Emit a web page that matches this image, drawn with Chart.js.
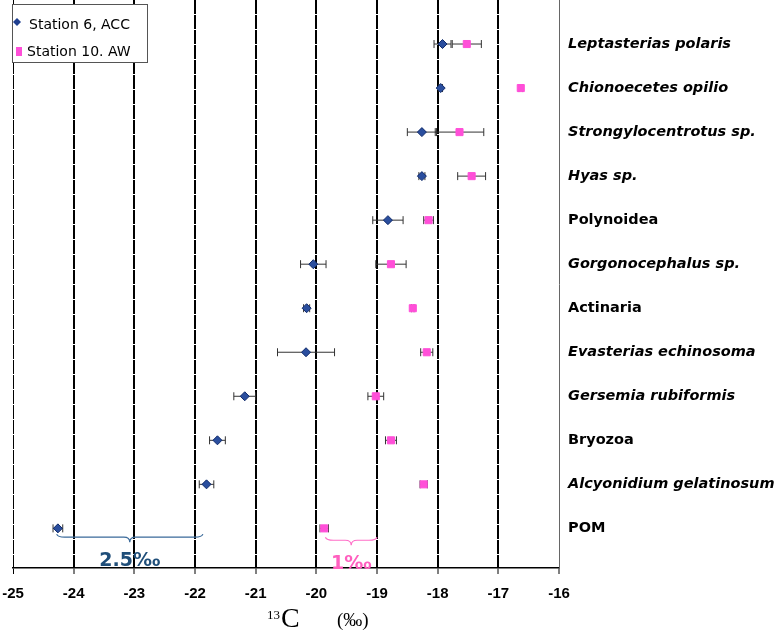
<!DOCTYPE html>
<html>
<head>
<meta charset="utf-8">
<script src="https://cdn.jsdelivr.net/npm/chart.js@4.4.1/dist/chart.umd.min.js"></script>
<style>
body { margin: 0; background: #fff; }
#wrap { width: 778px; height: 633px; }
</style>
</head>
<body>
<div id="wrap"><canvas id="isoChart" width="778" height="633"></canvas></div>
<script>
// taxa listed top to bottom
const taxa = ['Leptasterias polaris', 'Chionoecetes opilio', 'Strongylocentrotus sp.', 'Hyas sp.',
    'Polynoidea', 'Gorgonocephalus sp.', 'Actinaria', 'Evasterias echinosoma',
    'Gersemia rubiformis', 'Bryozoa', 'Alcyonidium gelatinosum', 'POM'];
const italicTaxa = [true, true, true, true, false, true, false, true, true, false, true, false];

// Station 6, ACC (mean and sd of d13C)
const accMean = [-17.92, -17.95, -18.26, -18.26, -18.82, -20.05, -20.16, -20.17, -21.18, -21.63, -21.81, -24.26];
const accSd = [0.14, 0.03, 0.24, 0.05, 0.25, 0.21, 0.05, 0.47, 0.18, 0.13, 0.12, 0.08];

// Station 10, AW
const awMean = [-17.52, -16.63, -17.64, -17.44, -18.15, -18.77, -18.41, -18.18, -19.02, -18.77, -18.23, -19.87];
const awSd = [0.24, 0.03, 0.40, 0.23, 0.08, 0.25, 0.02, 0.10, 0.13, 0.09, 0.06, 0.07];

const xTicks = [-25, -24, -23, -22, -21, -20, -19, -18, -17, -16];

// brace annotations
const braces = [
    { from: -24.28, to: -21.87, row: 12.2, text: '2.5‰', line: '#3A6A9A', color: '#1F4E79' },
    { from: -19.85, to: -19.0, row: 12.27, text: '1‰', line: '#FF6FC8', color: '#FF5FBF' }
];

function toPoints(means) {
    let pts = [];
    for (var i = 0; i < means.length; i++) {
        pts.push({ x: means[i], y: i + 1 });
    }
    return pts;
}

// Whiskers drawn under the markers
const errorBars = {
    id: 'errorBars',
    beforeDatasetsDraw(chart) {
        const ctx = chart.ctx;
        const xs = chart.scales.x;
        const ys = chart.scales.y;
        const sets = [[accMean, accSd], [awMean, awSd]];
        ctx.save();
        ctx.strokeStyle = '#333';
        ctx.lineWidth = 1;
        sets.forEach(s => {
            for (var i = 0; i < s[0].length; i++) {
                const y = ys.getPixelForValue(i + 1);
                const x1 = xs.getPixelForValue(s[0][i] - s[1][i]);
                const x2 = xs.getPixelForValue(s[0][i] + s[1][i]);
                ctx.beginPath();
                ctx.moveTo(x1, y); ctx.lineTo(x2, y);
                ctx.moveTo(x1, y - 4); ctx.lineTo(x1, y + 4);
                ctx.moveTo(x2, y - 4); ctx.lineTo(x2, y + 4);
                ctx.stroke();
            }
        });
        ctx.restore();
    }
};

const extras = {
    id: 'extras',
    afterDraw(chart) {
        const ctx = chart.ctx;
        const xs = chart.scales.x;
        const ys = chart.scales.y;
        ctx.save();

        // braces + labels
        braces.forEach(b => {
            const x1 = xs.getPixelForValue(b.from);
            const x2 = xs.getPixelForValue(b.to);
            const y = ys.getPixelForValue(b.row);
            const mid = (x1 + x2) / 2;
            ctx.strokeStyle = b.line;
            ctx.lineWidth = 1.2;
            ctx.beginPath();
            ctx.moveTo(x1, y - 3);
            ctx.quadraticCurveTo(x1 + 1, y, x1 + 8, y);
            ctx.lineTo(mid - 6, y);
            ctx.quadraticCurveTo(mid, y, mid, y + 5);
            ctx.quadraticCurveTo(mid, y, mid + 6, y);
            ctx.lineTo(x2 - 8, y);
            ctx.quadraticCurveTo(x2 - 1, y, x2, y - 3);
            ctx.stroke();
            ctx.fillStyle = b.color;
            ctx.font = 'bold 19px "DejaVu Sans"';
            ctx.textAlign = 'center';
            ctx.textBaseline = 'alphabetic';
            ctx.fillText(b.text, mid, y + 29);
        });

        // x axis title with superscript
        ctx.fillStyle = '#000';
        ctx.textAlign = 'left';
        ctx.textBaseline = 'alphabetic';
        ctx.font = '13px "Liberation Serif"';
        ctx.fillText('13', 267, 619);
        ctx.font = '28px "Liberation Serif"';
        ctx.fillText('C', 281, 627);
        ctx.font = '19px "Liberation Serif"';
        ctx.fillText('(‰)', 337, 626);

        // legend box
        ctx.fillStyle = '#fff';
        ctx.fillRect(12, 4, 135, 58);
        ctx.strokeStyle = '#555';
        ctx.lineWidth = 1;
        ctx.strokeRect(12.5, 4.5, 135, 58);
        ctx.fillStyle = '#1F3F8F';
        ctx.beginPath();
        ctx.moveTo(17, 18); ctx.lineTo(21, 22); ctx.lineTo(17, 26); ctx.lineTo(13, 22);
        ctx.closePath();
        ctx.fill();
        ctx.fillStyle = '#FF4FD8';
        ctx.fillRect(16, 47, 6, 9);
        ctx.fillStyle = '#000';
        ctx.font = '14px "DejaVu Sans"';
        ctx.textBaseline = 'middle';
        ctx.fillText('Station 6, ACC', 29, 25);
        ctx.fillText('Station 10. AW', 27, 52);
        ctx.restore();
    }
};

const chart = new Chart(document.getElementById('isoChart'), {
    type: 'scatter',
    data: {
        datasets: [{
            label: 'Station 6, ACC',
            data: toPoints(accMean),
            pointStyle: 'rectRot',
            pointRadius: 4.5,
            backgroundColor: '#2A4E9E',
            borderColor: '#0F2A6A',
            borderWidth: 1
        }, {
            label: 'Station 10. AW',
            data: toPoints(awMean),
            pointStyle: 'rect',
            pointRadius: 5,
            backgroundColor: '#FF4FD8',
            borderColor: '#FF4FD8',
            borderWidth: 1
        }]
    },
    options: {
        responsive: false,
        animation: false,
        devicePixelRatio: 1,
        layout: { autoPadding: false, padding: { left: 13, top: 0 } },
        plugins: { legend: { display: false }, tooltip: { enabled: false } },
        scales: {
            x: {
                type: 'linear',
                min: -25,
                max: -16,
                afterBuildTicks: s => { s.ticks = xTicks.map(v => ({ value: v })); },
                afterFit: s => { s.height = 65; s.paddingLeft = 0; s.paddingRight = 0; },
                ticks: {
                    color: '#000',
                    padding: 11,
                    font: { family: '"Liberation Sans"', size: 15, weight: 'bold' }
                },
                grid: {
                    color: ctx => (ctx.tick && ctx.tick.value === -16) ? 'rgba(0,0,0,0)' : '#000',
                    lineWidth: ctx => (ctx.tick && ctx.tick.value === -25) ? 1 : 2,
                    tickColor: '#000',
                    tickLength: 6,
                    tickWidth: 1
                },
                border: { display: true, color: '#000', width: 1.5, dash: [14, 1] }
            },
            y: {
                type: 'linear',
                position: 'right',
                reverse: true,
                min: 0,
                max: 12.9,
                afterBuildTicks: s => { s.ticks = taxa.map((t, i) => ({ value: i + 1 })); },
                afterFit: s => { s.width = 219; s.paddingTop = 0; s.paddingBottom = 0; },
                ticks: {
                    color: '#000',
                    padding: 1,
                    callback: v => taxa[v - 1],
                    font: ctx => ({
                        family: '"DejaVu Sans"',
                        size: 14.5,
                        weight: 'bold',
                        style: italicTaxa[ctx.index] ? 'italic' : 'normal'
                    })
                },
                grid: { display: false },
                border: { display: true, color: '#666', width: 1 }
            }
        }
    },
    plugins: [errorBars, extras]
});
</script>
</body>
</html>
